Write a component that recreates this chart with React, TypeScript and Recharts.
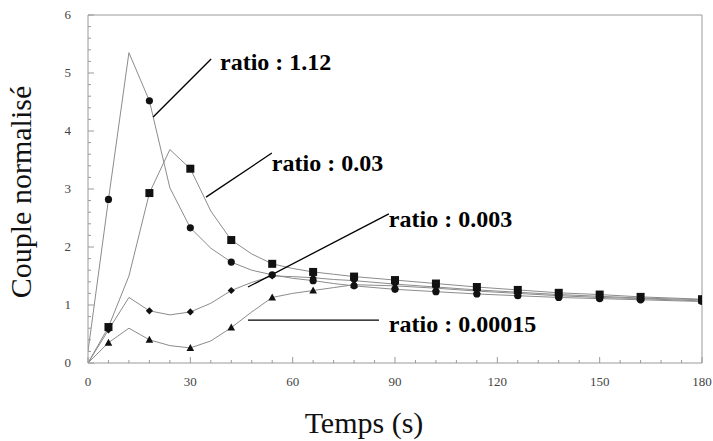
import React from "react";
import {
  Customized,
  Line,
  LineChart,
  ReferenceDot,
  ReferenceLine,
  XAxis,
  YAxis,
} from "recharts";

// time points (s) and which of them carry a marker
const TIMES = [0, 6, 12, 18, 24, 30, 36, 42, 48, 54, 60, 66, 72, 78, 90, 102, 114, 126, 138, 150, 162, 180];
const MARKER_TIMES = [6, 18, 30, 42, 54, 66, 78, 90, 102, 114, 126, 138, 150, 162, 180];

// normalised torque per ratio
const RATIO_112 = [0.2, 2.82, 5.35, 4.52, 3.02, 2.33, 1.98, 1.74, 1.6, 1.52, 1.46, 1.42, 1.37, 1.33, 1.27, 1.23, 1.19, 1.16, 1.13, 1.11, 1.09, 1.06];
const RATIO_003 = [0, 0.62, 1.5, 2.93, 3.68, 3.35, 2.62, 2.12, 1.88, 1.71, 1.63, 1.57, 1.53, 1.49, 1.43, 1.37, 1.31, 1.26, 1.21, 1.18, 1.14, 1.1];
const RATIO_0003 = [0, 0.57, 1.13, 0.9, 0.83, 0.88, 1.03, 1.25, 1.39, 1.5, 1.49, 1.47, 1.44, 1.42, 1.36, 1.31, 1.26, 1.22, 1.18, 1.15, 1.12, 1.09];
const RATIO_000015 = [0, 0.35, 0.6, 0.4, 0.3, 0.26, 0.38, 0.61, 0.88, 1.13, 1.2, 1.25, 1.3, 1.35, 1.33, 1.29, 1.24, 1.2, 1.16, 1.13, 1.11, 1.07];

const X_TICKS = Array.from({ length: 31 }, (_, i) => i * 6);
const Y_TICKS = Array.from({ length: 31 }, (_, i) => i / 5);

const FRAME = "#9a9a9a";
const CURVE = "#8c8c8c";
const INK = "#111";
const SERIF = "'Liberation Serif', 'Times New Roman', serif";

type Shape = "circle" | "square" | "diamond" | "triangle";

const toPoints = (values: number[]) =>
  TIMES.map((t, i) => ({ t, v: values[i], m: MARKER_TIMES.includes(t) }));

const SERIES: { name: string; values: number[]; shape: Shape }[] = [
  { name: "ratio : 1.12", values: RATIO_112, shape: "circle" },
  { name: "ratio : 0.03", values: RATIO_003, shape: "square" },
  { name: "ratio : 0.003", values: RATIO_0003, shape: "diamond" },
  { name: "ratio : 0.00015", values: RATIO_000015, shape: "triangle" },
];

// annotation text anchors and leader lines, in data units
const NOTES = [
  { text: "ratio : 1.12", at: [38.7, 5.05], from: [19.1, 4.24], to: [36.1, 5.24] },
  { text: "ratio : 0.03", at: [53.9, 3.31], from: [34.6, 2.86], to: [53.9, 3.62] },
  { text: "ratio : 0.003", at: [88.2, 2.34], from: [46.9, 1.31], to: [88.2, 2.57] },
  { text: "ratio : 0.00015", at: [88.2, 0.53], from: [46.9, 0.74], to: [85.3, 0.74] },
];

const marker = (shape: Shape) => (p: any) => {
  const { cx, cy, payload, index } = p;
  const key = `${shape}-${index}`;
  if (!payload?.m || cx == null || cy == null) return <g key={key} />;
  if (shape === "circle") return <circle key={key} cx={cx} cy={cy} r={3.6} fill={INK} />;
  if (shape === "square")
    return <rect key={key} x={cx - 4} y={cy - 4} width={8} height={8} fill={INK} />;
  if (shape === "diamond")
    return (
      <polygon
        key={key}
        points={`${cx},${cy - 3.6} ${cx + 3.6},${cy} ${cx},${cy + 3.6} ${cx - 3.6},${cy}`}
        fill={INK}
      />
    );
  return (
    <polygon
      key={key}
      points={`${cx},${cy - 4} ${cx + 3.8},${cy + 3} ${cx - 3.8},${cy + 3}`}
      fill={INK}
    />
  );
};

const isMajor = (v: number, step: number) => Math.abs(v / step - Math.round(v / step)) < 1e-6;

const BottomTick = ({ x, y, payload }: any) => {
  const major = isMajor(payload.value, 30);
  return (
    <g>
      <line x1={x} x2={x} y1={y} y2={y - (major ? 6 : 3)} stroke={FRAME} />
      {major && (
        <text x={x} y={y + 23} textAnchor="middle" fontFamily={SERIF} fontSize={13} fill="#444">
          {payload.value}
        </text>
      )}
    </g>
  );
};

const TopTick = ({ x, y, payload }: any) => {
  const major = isMajor(payload.value, 30);
  return <line x1={x} x2={x} y1={y} y2={y + (major ? 6 : 3)} stroke={FRAME} />;
};

const LeftTick = ({ x, y, payload }: any) => {
  const major = isMajor(payload.value, 1);
  return (
    <g>
      <line x1={x} x2={x + (major ? 6 : 3)} y1={y} y2={y} stroke={FRAME} />
      {major && (
        <text x={x - 17} y={y + 4} textAnchor="end" fontFamily={SERIF} fontSize={13} fill="#444">
          {Math.round(payload.value)}
        </text>
      )}
    </g>
  );
};

const RightTick = ({ x, y, payload }: any) => {
  const major = isMajor(payload.value, 1);
  return <line x1={x} x2={x - (major ? 6 : 3)} y1={y} y2={y} stroke={FRAME} />;
};

const Titles = () => (
  <g fontFamily={SERIF} fill="#111">
    <text x={364} y={433} textAnchor="middle" fontSize={30}>
      Temps (s)
    </text>
    <text x={31} y={192} textAnchor="middle" fontSize={30} transform="rotate(-90, 31, 192)">
      Couple normalisé
    </text>
  </g>
);

export default function App() {
  return (
    <div style={{ position: "absolute", left: 0, top: 0, background: "#fff" }}>
      <LineChart width={713} height={441} margin={{ top: 14, right: 10, bottom: 77, left: 87 }}>
        <XAxis
          type="number"
          dataKey="t"
          domain={[0, 180]}
          ticks={X_TICKS}
          interval={0}
          height={1}
          tickSize={0}
          tickMargin={0}
          tick={BottomTick}
          tickLine={false}
          axisLine={{ stroke: FRAME }}
          allowDataOverflow
        />
        <XAxis
          xAxisId="top"
          orientation="top"
          type="number"
          domain={[0, 180]}
          ticks={X_TICKS}
          interval={0}
          height={1}
          tickSize={0}
          tickMargin={0}
          tick={TopTick}
          tickLine={false}
          axisLine={{ stroke: FRAME }}
        />
        <YAxis
          type="number"
          domain={[0, 6]}
          ticks={Y_TICKS}
          interval={0}
          width={1}
          tickSize={0}
          tickMargin={0}
          tick={LeftTick}
          tickLine={false}
          axisLine={{ stroke: FRAME }}
          allowDataOverflow
        />
        <YAxis
          yAxisId="right"
          orientation="right"
          type="number"
          domain={[0, 6]}
          ticks={Y_TICKS}
          interval={0}
          width={1}
          tickSize={0}
          tickMargin={0}
          tick={RightTick}
          tickLine={false}
          axisLine={{ stroke: FRAME }}
        />
        {SERIES.map((s) => (
          <Line
            key={s.name}
            data={toPoints(s.values)}
            dataKey="v"
            name={s.name}
            type="linear"
            stroke={CURVE}
            strokeWidth={1}
            dot={marker(s.shape)}
            activeDot={false}
            isAnimationActive={false}
          />
        ))}
        {NOTES.map((n) => (
          <ReferenceLine
            key={`l-${n.text}`}
            segment={[
              { x: n.from[0], y: n.from[1] },
              { x: n.to[0], y: n.to[1] },
            ]}
            stroke="#000"
            strokeWidth={1.3}
            ifOverflow="visible"
          />
        ))}
        {NOTES.map((n) => (
          <ReferenceDot
            key={`t-${n.text}`}
            x={n.at[0]}
            y={n.at[1]}
            r={0}
            ifOverflow="visible"
            shape={(p: any) => (
              <text x={p.cx} y={p.cy} fontFamily={SERIF} fontWeight="bold" fontSize={24} fill="#000">
                {n.text}
              </text>
            )}
          />
        ))}
        <Customized component={Titles} />
      </LineChart>
    </div>
  );
}
